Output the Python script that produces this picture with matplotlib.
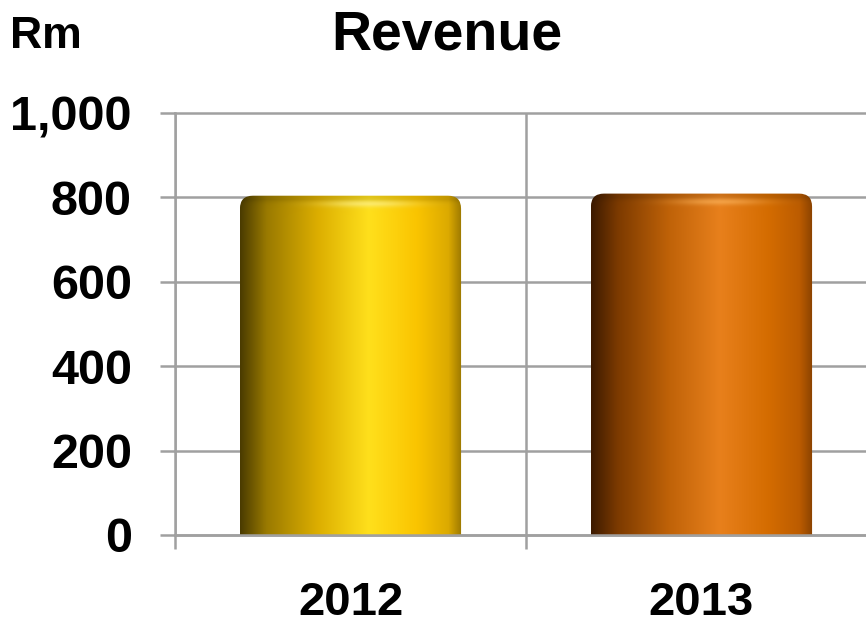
import matplotlib.pyplot as plt
import numpy as np
from matplotlib.patches import FancyBboxPatch
from matplotlib.colors import to_rgb
from matplotlib.ticker import FuncFormatter

plt.rcParams["font.family"] = ["Liberation Sans", "DejaVu Sans"]
plt.rcParams["font.weight"] = "bold"

years = ["2012", "2013"]
revenue = [804, 809]

# horizontal shading stops for each cylinder (position, colour)
shades = [
    [(0.0, "#4a3b00"), (0.12, "#9a7a00"), (0.35, "#dcae00"), (0.58, "#ffe01c"),
     (0.8, "#fac400"), (0.94, "#dcaa00"), (1.0, "#9c7800")],
    [(0.0, "#3c1a00"), (0.12, "#7c3a00"), (0.35, "#bf6208"), (0.58, "#e8801c"),
     (0.8, "#d46c00"), (0.94, "#bc5c00"), (1.0, "#8a4200")],
]
glow = ["#fff59a", "#ffb860"]

grid_col = "#a0a0a0"

fig = plt.figure(figsize=(8.66, 6.25), dpi=100)
ax = fig.add_axes([175 / 866, 90 / 625, 702 / 866, 422 / 625])

x = np.arange(len(years))
bars = ax.bar(x, revenue, width=0.63, color="none", edgecolor="none")

px_x = 2.0 / 702          # x data units per pixel
px_y = 1000.0 / 422       # y data units per pixel

for bar, stops, gc in zip(bars, shades, glow):
    x0 = bar.get_x()
    w = bar.get_width()
    top = bar.get_height()
    bottom = -40 * px_y

    # rounded-top outline used to clip the shaded image
    clip = FancyBboxPatch((x0, bottom), w, top - bottom,
                          boxstyle=f"round,pad=0,rounding_size={13 * px_x}",
                          mutation_aspect=px_y / px_x,
                          facecolor="none", edgecolor="none")
    ax.add_patch(clip)

    n = 400
    t = np.linspace(0, 1, n)
    pos = [s[0] for s in stops]
    cols = np.array([to_rgb(s[1]) for s in stops])
    row = np.stack([np.interp(t, pos, cols[:, k]) for k in range(3)], axis=-1)

    hgt = 300
    img = np.repeat(row[None, :, :], hgt, axis=0)
    yy = np.linspace(top, bottom, hgt)
    # slightly darker cap just at the very top edge
    depth = (top - yy) / px_y
    cap = np.clip(1 - 0.5 * np.exp(-depth / 3.0), 0.88, 1.0)
    img = img * cap[:, None, None]
    # soft highlight band a few pixels below the top
    band = np.exp(-((depth - 8) / 3.5) ** 2)
    horiz = np.exp(-((t - 0.58) / 0.2) ** 2)
    a = (band[:, None] * horiz[None, :] * 0.6)[:, :, None]
    img = img * (1 - a) + np.array(to_rgb(gc)) * a

    im = ax.imshow(img, extent=[x0, x0 + w, bottom, top], aspect="auto",
                   interpolation="bilinear", zorder=2)
    im.set_clip_path(clip)

ax.set_xlim(-0.5, 1.5)
ax.set_ylim(0, 1000)

ax.set_yticks(np.arange(0, 1001, 200))
ax.yaxis.set_major_formatter(FuncFormatter(lambda v, p: f"{int(v):,}"))
ax.set_xticks(x)
ax.set_xticklabels(years)
ax.set_xticks([-0.5, 0.5, 1.5], minor=True)

ax.tick_params(axis="y", length=11, width=1.8, color=grid_col, pad=20,
               labelsize=35)
ax.tick_params(axis="x", which="major", length=0, pad=33, labelsize=34)
ax.tick_params(axis="x", which="minor", length=10, width=1.8, color=grid_col)

ax.grid(axis="y", color=grid_col, linewidth=1.8, zorder=0)
ax.grid(axis="x", which="minor", color=grid_col, linewidth=1.8, zorder=0)
for ln in ax.get_ygridlines():
    ln.set_clip_on(False)
ax.set_axisbelow(True)

for side in ["top", "right"]:
    ax.spines[side].set_visible(False)
for side in ["left", "bottom"]:
    ax.spines[side].set_color(grid_col)
    ax.spines[side].set_linewidth(1.8)

fig.text(447 / 866, 1 - 35 / 625, "Revenue", ha="center", va="center",
         fontsize=40, fontweight="bold")
fig.text(10 / 866, 1 - 36 / 625, "Rm", ha="left", va="center",
         fontsize=32, fontweight="bold")

fig.savefig("out.png", dpi=100)
